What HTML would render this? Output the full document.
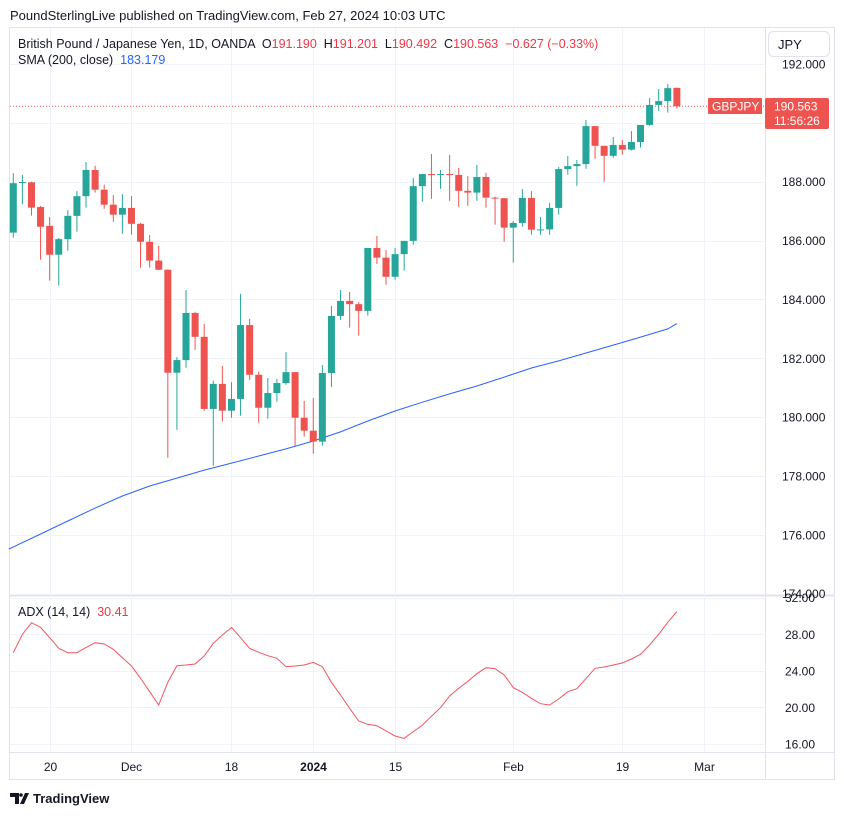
<!DOCTYPE html>
<html><head><meta charset="utf-8"><style>
html,body{margin:0;padding:0;background:#fff;}
body{width:844px;height:815px;overflow:hidden;font-family:"Liberation Sans",sans-serif;}
svg text{font-family:"Liberation Sans",sans-serif;white-space:pre;}
</style></head><body>
<svg id="chart" width="844" height="815" viewBox="0 0 844 815" xmlns="http://www.w3.org/2000/svg">
<text x="10" y="20" font-size="13" fill="#131722">PoundSterlingLive published on TradingView.com, Feb 27, 2024 10:03 UTC</text>
<rect x="9.5" y="27.5" width="825" height="752" fill="none" stroke="#e0e3eb"/>
<line x1="765.5" y1="28" x2="765.5" y2="779" stroke="#e0e3eb"/>
<line x1="9" y1="595.5" x2="834" y2="595.5" stroke="#e0e3eb" stroke-width="2"/>
<line x1="9" y1="752.5" x2="834" y2="752.5" stroke="#e0e3eb"/>
<g id="grid"></g>
<g id="sma"></g>
<g id="candles"></g>
<g id="adx"></g>
<g id="axes"></g>
<text x="18" y="48" font-size="12.5" fill="#131722">British Pound / Japanese Yen, 1D, OANDA  O<tspan fill="#f23645">191.190</tspan>  H<tspan fill="#f23645">191.201</tspan>  L<tspan fill="#f23645">190.492</tspan>  C<tspan fill="#f23645">190.563  −0.627 (−0.33%)</tspan></text>
<text x="18" y="64" font-size="12.5" fill="#131722">SMA (200, close)  <tspan fill="#2962ff">183.179</tspan></text>
<text x="18" y="616" font-size="12.5" fill="#131722">ADX (14, 14)  <tspan fill="#f23645">30.41</tspan></text>
<g><rect x="768.5" y="31.5" width="61" height="25" rx="5" fill="#fff" stroke="#e0e3eb"/><text x="778" y="49" font-size="13" fill="#131722">JPY</text></g>
<g><rect x="708" y="98" width="54" height="16" rx="1" fill="#ef5350"/><text x="712" y="110.5" font-size="12" fill="#fff">GBPJPY</text></g>
<g><rect x="765" y="98" width="64" height="31" rx="2" fill="#ef5350"/><text x="774" y="110.5" font-size="12" fill="#fff">190.563</text><text x="774" y="125" font-size="12" fill="#fff">11:56:26</text></g>
<g><path d="M10 793h9v11h-4v-7h-5z M20 804l5-11h4l-5 11z" fill="#131722"/><circle cx="21" cy="795" r="1.8" fill="#131722"/><text x="33" y="803" font-size="13" font-weight="bold" fill="#131722">TradingView</text></g>
</svg>
<script>
const opens=[186.27,187.98,187.98,187.14,186.50,185.52,186.05,186.84,187.51,188.40,187.73,187.22,186.88,187.11,186.57,185.96,185.32,185.01,181.51,181.94,183.54,182.73,180.28,181.13,180.22,180.62,183.13,181.44,180.32,180.82,181.16,181.53,179.98,179.54,179.17,181.50,183.44,183.95,183.84,183.61,185.75,185.42,184.77,185.54,185.99,187.85,188.26,188.24,188.26,188.23,187.69,187.63,188.16,187.46,187.44,186.44,186.60,187.45,186.37,186.38,187.11,188.43,188.53,188.60,189.89,189.22,188.88,189.25,189.09,189.35,189.93,190.61,190.74,191.19];
const closes=[187.95,187.99,187.12,186.47,185.52,186.05,186.84,187.51,188.40,187.73,187.22,186.88,187.11,186.57,185.96,185.32,185.01,181.51,181.94,183.54,182.73,180.28,181.13,180.22,180.62,183.13,181.44,180.32,180.82,181.16,181.53,179.98,179.54,179.17,181.50,183.44,183.95,183.84,183.61,185.75,185.42,184.77,185.54,185.99,187.85,188.26,188.24,188.26,188.24,187.69,187.63,188.16,187.46,187.44,186.44,186.60,187.45,186.37,186.38,187.11,188.43,188.53,188.60,189.89,189.22,188.88,189.25,189.09,189.35,189.93,190.61,190.74,191.18,190.563];
const highs=[188.29,188.23,188.00,187.18,186.80,186.09,187.04,187.68,188.67,188.54,187.90,187.55,187.58,187.51,186.60,186.19,185.82,185.02,182.04,184.32,183.58,183.17,181.24,181.74,181.19,184.19,183.34,181.55,181.33,181.30,182.21,181.53,180.55,180.65,181.77,183.78,184.32,184.25,183.91,185.75,186.16,185.68,185.75,185.99,188.13,188.26,188.94,188.40,188.91,188.47,188.19,188.57,188.30,187.49,187.44,186.66,187.75,187.68,186.80,187.28,188.50,188.87,188.74,190.10,189.89,189.22,189.52,189.42,189.72,189.93,190.84,191.15,191.32,191.201];
const lows=[186.10,187.23,186.85,185.35,184.64,184.47,185.66,186.30,187.12,187.63,187.08,186.64,186.23,186.20,185.08,185.08,185.00,178.62,179.57,181.68,182.28,180.22,178.35,179.85,179.98,180.05,181.27,179.81,179.95,180.52,181.10,179.02,179.34,178.76,179.03,181.03,183.31,183.04,182.77,183.45,185.21,184.50,184.67,184.98,185.86,187.32,187.42,187.76,187.35,187.15,187.18,187.35,187.12,186.54,185.96,185.25,186.47,186.20,186.20,186.20,186.88,188.24,187.86,188.44,188.78,188.00,188.81,188.92,189.06,189.16,189.90,190.41,190.35,190.492];
const smaIdx=[-0.5,0,3,6,9,12,15,18,21,24,27,30,33,36,39,42,45,48,51,54,57,60,63,66,69,72,73];
const smaVals=[175.52,175.59,176.03,176.47,176.91,177.32,177.66,177.93,178.20,178.44,178.68,178.92,179.19,179.50,179.87,180.21,180.51,180.79,181.06,181.36,181.67,181.91,182.18,182.45,182.72,183.00,183.18];
const adxVals=[25.99,28.0,29.27,28.76,27.63,26.47,25.99,25.99,26.54,27.08,26.94,26.36,25.44,24.53,23.18,21.72,20.26,22.75,24.57,24.64,24.75,25.63,27.01,27.92,28.76,27.63,26.47,26.03,25.66,25.37,24.46,24.53,24.64,24.93,24.46,22.75,21.36,19.90,18.51,18.15,18.0,17.42,16.87,16.62,17.35,18.07,19.03,19.97,21.25,22.09,22.85,23.69,24.35,24.24,23.55,22.16,21.65,21.0,20.41,20.26,20.92,21.72,22.05,23.18,24.28,24.42,24.64,24.86,25.30,25.81,26.83,28.0,29.31,30.48];
const priceTicks=[192,190,188,186,184,182,180,178,176,174];
const adxTicks=[32,28,24,20,16];
const timeTickIdx=[4,13,24,33,42,55,67,76];
const timeTickLabels=["20","Dec","18","2024","15","Feb","19","Mar"];
const lastPrice=190.563;

const NS="http://www.w3.org/2000/svg";
function xAt(i){return 13.3+9.09*i;}
function yP(p){return 64+(192-p)*29.43;}
function yA(v){return 634.3+(28-v)*9.14;}
function mk(tag,attrs,parent){const e=document.createElementNS(NS,tag);for(const k in attrs)e.setAttribute(k,attrs[k]);parent.appendChild(e);return e;}
const grid=document.getElementById('grid'),axes=document.getElementById('axes');
priceTicks.forEach(t=>{
  const y=Math.round(yP(t))+0.5;
  if(y>30&&y<594){const l=mk('line',{x1:10,x2:765,y1:y,y2:y,stroke:'#f0f3fa'},grid);
  
  }
  const tx=mk('text',{x:782,y:yP(t)+4.5,'font-size':12,fill:'#131722'},axes);tx.textContent=t.toFixed(3);
  
  
});
adxTicks.forEach(t=>{
  const y=Math.round(yA(t))+0.5;
  if(y>598){const l=mk('line',{x1:10,x2:765,y1:y,y2:y,stroke:'#f0f3fa'},grid);
  
  }
  const tx=mk('text',{x:785,y:yA(t)+4.5,'font-size':12,fill:'#131722'},axes);tx.textContent=t.toFixed(2);
  
  
});
timeTickIdx.forEach((ti,k)=>{
  const x=Math.round(xAt(ti))+0.5;
  const l=mk('line',{x1:x,x2:x,y1:28,y2:752,stroke:'#f0f3fa'},grid);
  
  
  const tx=mk('text',{x:x,y:771,'font-size':12,fill:'#131722','text-anchor':'middle','font-weight':timeTickLabels[k]==='2024'?'bold':'normal'},axes);
  tx.textContent=timeTickLabels[k];
  
  
});
const pl=mk('line',{x1:10,x2:765,y1:yP(lastPrice),y2:yP(lastPrice),stroke:'#ef5350','stroke-dasharray':'1 2'},grid);


let d='';smaIdx.forEach((ix,k)=>{d+=(k?'L':'M')+xAt(ix).toFixed(1)+' '+yP(smaVals[k]).toFixed(1);});
const sp=mk('path',{d:d,fill:'none',stroke:'#2962ff','stroke-width':1},document.getElementById('sma'));


const cg=document.getElementById('candles');
opens.forEach((o,i)=>{
  const c=closes[i],up=c>=o,col=up?'#26a69a':'#ef5350',x=xAt(i);
  const g=mk('g',{},cg);
  
  
  mk('line',{x1:x,x2:x,y1:yP(highs[i]),y2:yP(lows[i]),stroke:col,'stroke-width':1},g);
  const top=yP(Math.max(o,c)),bot=yP(Math.min(o,c));
  mk('rect',{x:x-3.5,y:top,width:7,height:Math.max(1,bot-top),fill:col},g);
});
let a='';adxVals.forEach((v,i)=>{a+=(i?'L':'M')+xAt(i).toFixed(1)+' '+yA(v).toFixed(1);});
const ap=mk('path',{d:a,fill:'none',stroke:'#f7525f','stroke-width':1},document.getElementById('adx'));


</script>
</body></html>
